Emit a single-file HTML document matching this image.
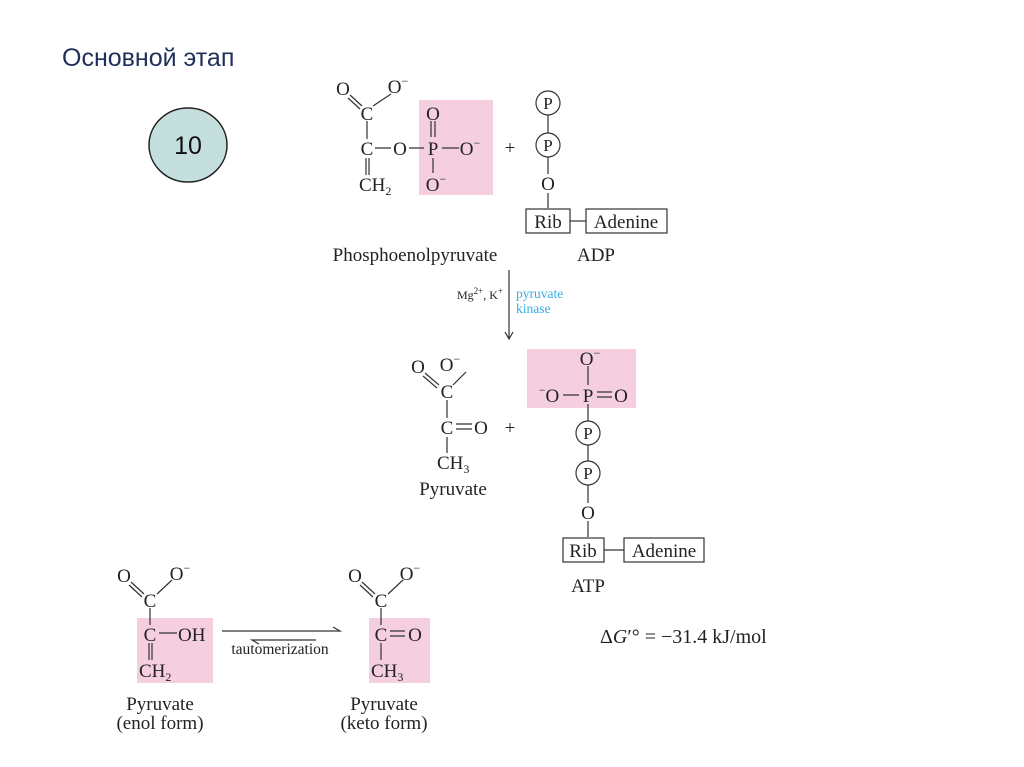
<!DOCTYPE html>
<html><head><meta charset="utf-8"><style>
html,body{margin:0;padding:0;background:#fff;}
svg{display:block}
text{font-family:"Liberation Serif",serif;font-size:19px;fill:#222;}
.sm{font-size:12px}
.p{font-size:17px}
</style></head><body>
<svg width="1024" height="767" viewBox="0 0 1024 767">
<rect x="419" y="100" width="74" height="95" fill="#f5cfe0"/>
<rect x="527" y="349" width="109" height="59" fill="#f5cfe0"/>
<rect x="137" y="618" width="76" height="65" fill="#f5cfe0"/>
<rect x="369" y="618" width="61" height="65" fill="#f5cfe0"/>

<text x="62" y="66" style="font-family:'Liberation Sans',sans-serif;font-size:25px;fill:#1f2f5a">Основной этап</text>
<ellipse cx="188" cy="145" rx="39" ry="37" fill="#c5dfdf" stroke="#222" stroke-width="1.5"/>
<text x="188" y="154" text-anchor="middle" style="font-family:'Liberation Sans',sans-serif;font-size:25px;fill:#111">10</text>

<g stroke="#333" stroke-width="1.2" fill="none">
<path d="M350 95 L362 106 M348 98 L360 109 M373 106 L391 94 M367 121 L367 139 M375 148 L391 148 M409 148 L424 148 M366 158 L366 175 M369 158 L369 175 M442 148 L459 148 M431 121 L431 137 M435 121 L435 137 M433 158 L433 173"/>
<circle cx="548" cy="103" r="12"/><circle cx="548" cy="145" r="12"/>
<path d="M548 115 L548 133 M548 157 L548 174 M548 193 L548 208"/>
<rect x="526" y="209" width="44" height="24"/><rect x="586" y="209" width="81" height="24"/>
<path d="M570 221 L586 221"/>
<path d="M509 270 L509 338 M505 332 L509 339 L513 332"/>
<path d="M425 373 L439 385 M423 376 L437 388 M453 385 L466 372 M447 400 L447 418 M456 424 L472 424 M456 429 L472 429 M447 437 L447 453"/>
<path d="M588 366 L588 385 M563 395 L579 395 M597 392 L612 392 M597 397 L612 397 M588 404 L588 421 M588 445 L588 461 M588 485 L588 503 M588 521 L588 537"/>
<circle cx="588" cy="433" r="12"/><circle cx="588" cy="473" r="12"/>
<rect x="563" y="538" width="41" height="24"/><rect x="624" y="538" width="80" height="24"/>
<path d="M604 550 L624 550"/>
<path d="M131 582 L144 594 M129 585 L142 597 M157 594 L172 580 M150 608 L150 625 M159 633 L177 633 M149 643 L149 660 M152 643 L152 660"/>
<path d="M362 582 L375 594 M360 585 L373 597 M388 594 L403 580 M381 608 L381 625 M390 631 L405 631 M390 636 L405 636 M381 643 L381 660"/>
<path d="M222 631 L340 631 L333 627 M316 640 L252 640 L259 644"/>
</g>

<text x="343" y="95" text-anchor="middle">O</text><text x="398" y="93" text-anchor="middle">O<tspan class="sm" dy="-8">−</tspan></text>
<text x="367" y="120" text-anchor="middle">C</text><text x="367" y="155" text-anchor="middle">C</text>
<text x="400" y="155" text-anchor="middle">O</text><text x="433" y="155" text-anchor="middle">P</text>
<text x="433" y="120" text-anchor="middle">O</text><text x="470" y="155" text-anchor="middle">O<tspan class="sm" dy="-8">−</tspan></text>
<text x="436" y="191" text-anchor="middle">O<tspan class="sm" dy="-8">−</tspan></text>
<text x="359" y="191">CH<tspan class="sm" dy="4">2</tspan></text>
<text x="510" y="154" text-anchor="middle">+</text>
<text x="548" y="109" text-anchor="middle" class="p">P</text><text x="548" y="151" text-anchor="middle" class="p">P</text>
<text x="548" y="190" text-anchor="middle">O</text>
<text x="548" y="228" text-anchor="middle">Rib</text><text x="626" y="228" text-anchor="middle">Adenine</text>
<text x="415" y="261" text-anchor="middle">Phosphoenolpyruvate</text><text x="596" y="261" text-anchor="middle">ADP</text>
<text x="503" y="299" text-anchor="end" style="font-size:12px">Mg<tspan style="font-size:9px" dy="-5">2+</tspan><tspan dy="5">, K</tspan><tspan style="font-size:9px" dy="-5">+</tspan></text>
<text x="516" y="298" style="font-size:13.5px;fill:#3aaee0">pyruvate</text><text x="516" y="313" style="font-size:13.5px;fill:#3aaee0">kinase</text>

<text x="418" y="373" text-anchor="middle">O</text><text x="450" y="371" text-anchor="middle">O<tspan class="sm" dy="-8">−</tspan></text>
<text x="447" y="398" text-anchor="middle">C</text><text x="447" y="434" text-anchor="middle">C</text>
<text x="481" y="434" text-anchor="middle">O</text><text x="510" y="434" text-anchor="middle">+</text>
<text x="437" y="469">CH<tspan class="sm" dy="4">3</tspan></text>
<text x="453" y="495" text-anchor="middle">Pyruvate</text>

<text x="590" y="365" text-anchor="middle">O<tspan class="sm" dy="-8">−</tspan></text>
<text x="549" y="402" text-anchor="middle"><tspan class="sm" dy="-8">−</tspan><tspan dy="8">O</tspan></text>
<text x="588" y="402" text-anchor="middle">P</text><text x="621" y="402" text-anchor="middle">O</text>
<text x="588" y="439" text-anchor="middle" class="p">P</text><text x="588" y="479" text-anchor="middle" class="p">P</text>
<text x="588" y="519" text-anchor="middle">O</text>
<text x="583" y="557" text-anchor="middle">Rib</text><text x="664" y="557" text-anchor="middle">Adenine</text>
<text x="588" y="592" text-anchor="middle">ATP</text>

<text x="124" y="582" text-anchor="middle">O</text><text x="180" y="580" text-anchor="middle">O<tspan class="sm" dy="-8">−</tspan></text>
<text x="150" y="607" text-anchor="middle">C</text><text x="150" y="641" text-anchor="middle">C</text>
<text x="178" y="641">OH</text>
<text x="139" y="677">CH<tspan class="sm" dy="4">2</tspan></text>
<text x="160" y="710" text-anchor="middle">Pyruvate</text><text x="160" y="729" text-anchor="middle">(enol form)</text>
<text x="280" y="654" text-anchor="middle" style="font-size:15.5px">tautomerization</text>
<text x="355" y="582" text-anchor="middle">O</text><text x="410" y="580" text-anchor="middle">O<tspan class="sm" dy="-8">−</tspan></text>
<text x="381" y="607" text-anchor="middle">C</text><text x="381" y="641" text-anchor="middle">C</text>
<text x="415" y="641" text-anchor="middle">O</text>
<text x="371" y="677">CH<tspan class="sm" dy="4">3</tspan></text>
<text x="384" y="710" text-anchor="middle">Pyruvate</text><text x="384" y="729" text-anchor="middle">(keto form)</text>
<text x="600" y="643" style="font-size:20px">Δ<tspan font-style="italic">G</tspan>′° = −31.4 kJ/mol</text>
</svg>
</body></html>
